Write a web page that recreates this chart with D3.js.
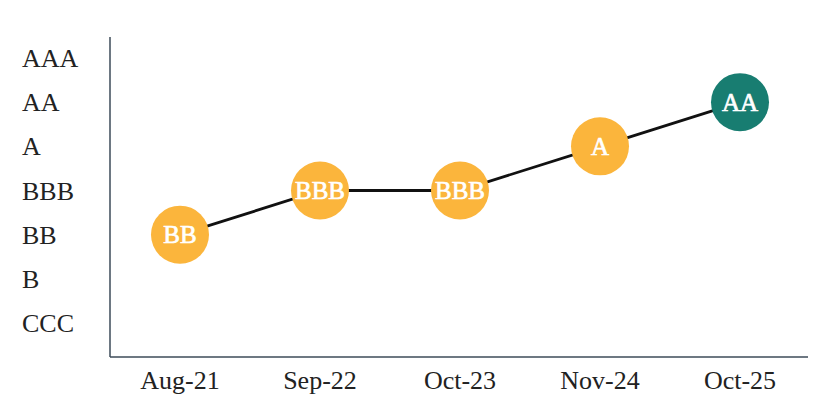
<!DOCTYPE html>
<html><head><meta charset="utf-8">
<script src="https://cdn.jsdelivr.net/npm/d3@7"></script>
<style>html,body{margin:0;padding:0;background:#fff;}</style>
</head><body>
<svg id="chart" width="830" height="414"></svg>
<script>
const ratingScale = ["CCC","B","BB","BBB","A","AA","AAA"];
const dates = ["Aug-21","Sep-22","Oct-23","Nov-24","Oct-25"];
const ratings = ["BB","BBB","BBB","A","AA"];
const highlight = [false,false,false,false,true];

(function(){
const svg = d3.select("#chart");
const font = "'Liberation Serif', 'Times New Roman', serif";
const mLeft = 110, mRight = 810, mTop = 37, mBottom = 357;

const x = d3.scaleBand().domain(dates).range([mLeft, mRight]);
const y = d3.scalePoint().domain(ratingScale).range([323, 58]);

svg.append("line").attr("x1", mLeft).attr("x2", mLeft).attr("y1", mTop).attr("y2", mBottom)
  .attr("stroke", "#3d4b58").attr("stroke-width", 1.5);
svg.append("line").attr("x1", mLeft).attr("x2", 808).attr("y1", mBottom).attr("y2", mBottom)
  .attr("stroke", "#3d4b58").attr("stroke-width", 1.5);

svg.append("g").selectAll("text").data(ratingScale).join("text")
  .attr("x", 22).attr("y", d => y(d)).attr("dy", "0.35em")
  .attr("font-family", font).attr("font-size", 26).attr("fill", "#222")
  .text(d => d);

svg.append("g").selectAll("text").data(dates).join("text")
  .attr("x", d => x(d) + x.bandwidth()/2).attr("y", 389)
  .attr("text-anchor", "middle")
  .attr("font-family", font).attr("font-size", 26).attr("fill", "#222")
  .text(d => d);

const pts = dates.map((d,i) => ({d, r: ratings[i], h: highlight[i]}));
const line = d3.line().x(p => x(p.d) + x.bandwidth()/2).y(p => y(p.r));
svg.append("path").datum(pts).attr("d", line).attr("fill", "none")
  .attr("stroke", "#111").attr("stroke-width", 2.8);

const g = svg.append("g").selectAll("g").data(pts).join("g")
  .attr("transform", p => `translate(${x(p.d) + x.bandwidth()/2},${y(p.r)})`);
g.append("circle").attr("r", 29).attr("fill", p => p.h ? "#187d71" : "#fbb53c");
g.append("text").attr("text-anchor", "middle").attr("dy", "0.35em")
  .attr("font-family", font).attr("font-size", 25)
  .attr("fill", "#fff").attr("stroke", "#fff").attr("stroke-width", 0.7)
  .text(p => p.r);
})();
</script>
</body></html>
